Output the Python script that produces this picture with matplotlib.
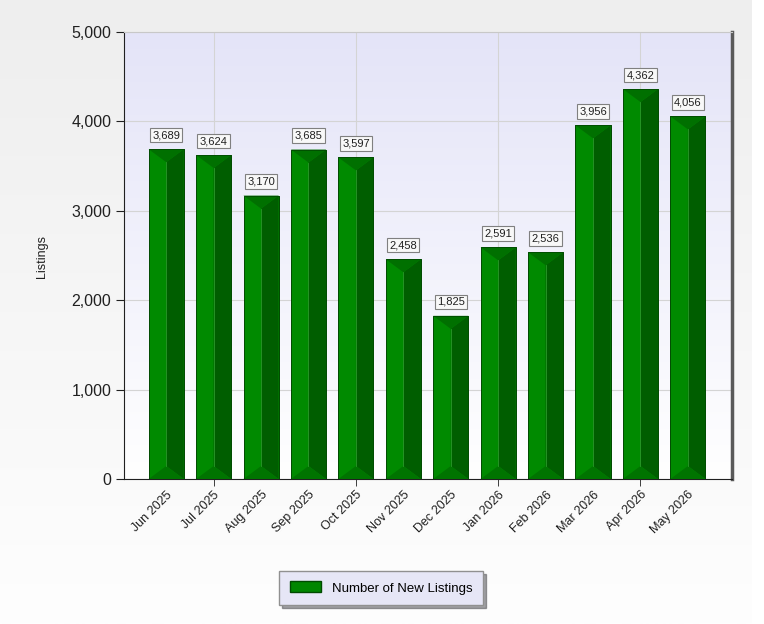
import numpy as np
import matplotlib
matplotlib.use('Agg')
import matplotlib.pyplot as plt
from matplotlib.patches import Polygon

plt.rcParams['font.family'] = ['Liberation Sans', 'DejaVu Sans']

# data
months = ['Jun 2025', 'Jul 2025', 'Aug 2025', 'Sep 2025', 'Oct 2025', 'Nov 2025',
          'Dec 2025', 'Jan 2026', 'Feb 2026', 'Mar 2026', 'Apr 2026', 'May 2026']
new_listings = [3689, 3624, 3170, 3685, 3597, 2458, 1825, 2591, 2536, 3956, 4362, 4056]
series_name = 'Number of New Listings'

W, H = 764, 624
fig = plt.figure(figsize=(W / 100, H / 100), dpi=100)
fig.patch.set_facecolor('white')

# figure background gradient (light gray -> near white)
bg = fig.add_axes([0, 0, 752 / W, 1], zorder=-10)
grad = np.linspace(0, 1, 256).reshape(-1, 1)
bg.imshow(grad, aspect='auto', cmap=matplotlib.colors.LinearSegmentedColormap.from_list(
    'bg', ['#eeeeee', '#fefefe']), extent=[0, 1, 0, 1], origin='upper')
bg.axis('off')

ax = fig.add_axes([124 / W, (H - 479) / H, (732 - 124) / W, 447 / H])
ax.set_facecolor('white')

# plot area gradient (lavender -> white)
ax.imshow(np.linspace(0, 1, 256).reshape(-1, 1), aspect='auto',
          cmap=matplotlib.colors.LinearSegmentedColormap.from_list(
              'pa', ['#e4e4f8', '#ffffff']),
          extent=[0, 1, 0, 1], origin='upper', transform=ax.transAxes, zorder=0)

x = np.arange(len(months))
width = 0.74
bars = ax.bar(x, new_listings, width=width, color='#008a00', edgecolor='#005000',
              linewidth=0.6, zorder=3, label=series_name)

ax.set_xlim(-0.89, 11.93)
ax.set_ylim(0, 5000)

# bevel facets
d = 5000 * 13 / 447
for b in bars:
    x0 = b.get_x()
    x1 = x0 + b.get_width()
    xc = x0 + b.get_width() / 2
    h = b.get_height()
    ax.add_patch(Polygon([(xc, d), (x1, 0), (x1, h), (xc, h - d)], closed=True,
                         facecolor='#005e00', edgecolor='none', zorder=3.1))
    ax.add_patch(Polygon([(x0, h), (x1, h), (xc, h - d)], closed=True,
                         facecolor='#007000', edgecolor='none', zorder=3.2))
    ax.add_patch(Polygon([(x0, 0), (x1, 0), (xc, d)], closed=True,
                         facecolor='#007400', edgecolor='none', zorder=3.2))
    ax.plot([xc, xc], [d, h - d], color='#2a9a2a', lw=0.6, zorder=3.3)
    ax.add_patch(plt.Rectangle((x0, 0), x1 - x0, h, fill=False,
                               edgecolor='#004a00', lw=0.6, zorder=3.4))
    ax.annotate(f'{int(h):,}', (xc, h), xytext=(0, 9), textcoords='offset pixels',
                ha='center', va='bottom', fontsize=8, color='#202020', zorder=5,
                bbox=dict(boxstyle='square,pad=0.2', facecolor='#f8f8f8',
                          edgecolor='#808080', linewidth=0.8))

# axes styling
ax.set_yticks(range(0, 5001, 1000))
ax.set_yticklabels([f'{v:,}' for v in range(0, 5001, 1000)], fontsize=11.5, color='#202020')
ax.set_xticks(x)
ax.set_xticklabels(months, rotation=45, ha='right', rotation_mode='anchor',
                   fontsize=9, color='#202020')
ax.xaxis.remove_overlapping_locs = False
ax.set_xticks([1, 4, 7, 10], minor=True)
ax.tick_params(axis='x', which='major', length=0, pad=7)
ax.tick_params(axis='x', which='minor', length=5, color='#202020')
ax.tick_params(axis='y', length=6, color='#202020', pad=3)
ax.grid(axis='y', color='#d4d4d4', lw=0.8, zorder=1)
ax.grid(axis='x', which='minor', color='#d4d4d4', lw=0.8, zorder=1)
ax.set_axisbelow(True)

ax.spines['left'].set_color('#202020')
ax.spines['bottom'].set_color('#202020')
ax.spines['top'].set_color('#c8c8c8')
ax.spines['right'].set_color('#5a5a5a')
ax.spines['right'].set_linewidth(2.5)

fig.text(42 / W, 1 - 257 / H, 'Listings', rotation=90, ha='center', va='center',
         fontsize=9, color='#202020')

leg = fig.legend(handles=[plt.Rectangle((0, 0), 1, 1, facecolor='#008600',
                                        edgecolor='#004a00')],
                 labels=[series_name], loc='center', bbox_to_anchor=(381 / W, 1 - 588 / H),
                 fontsize=9.5, frameon=True, fancybox=False, shadow=True,
                 facecolor='#e6e6f6', edgecolor='#909090', framealpha=1,
                 handlelength=2.4, handleheight=0.9, borderpad=0.8)
leg.get_frame().set_linewidth(1.0)

fig.savefig('out.png', dpi=100)
